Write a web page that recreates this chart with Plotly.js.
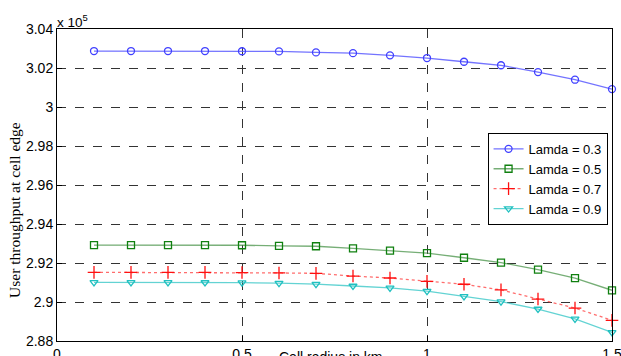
<!DOCTYPE html>
<html><head><meta charset="utf-8">
<script src="https://cdn.plot.ly/plotly-3.0.1.min.js"></script>
<style>html,body{margin:0;padding:0;background:#fff;}#chart{width:621px;height:356px;}</style>
</head><body><div id="chart"></div>
<script>
const cellRadius = [0.1,0.2,0.3,0.4,0.5,0.6,0.7,0.8,0.9,1.0,1.1,1.2,1.3,1.4,1.5];
const lamda03 = [3.0287,3.0287,3.0287,3.0287,3.0286,3.0285,3.0280,3.0276,3.0265,3.0251,3.0232,3.0214,3.0179,3.0140,3.0092];
const lamda05 = [2.9292,2.9292,2.9292,2.9292,2.9291,2.9288,2.9286,2.9275,2.9263,2.9251,2.9227,2.9202,2.9166,2.9122,2.9060];
const lamda07 = [2.9152,2.9152,2.9152,2.9152,2.9151,2.9149,2.9147,2.9133,2.9123,2.9106,2.9091,2.9062,2.9015,2.8969,2.8906];
const lamda09 = [2.9101,2.9101,2.9101,2.9100,2.9099,2.9097,2.9092,2.9082,2.9072,2.9056,2.9029,2.9002,2.8964,2.8913,2.8844];
const seriesNames = ['Lamda = 0.3','Lamda = 0.5','Lamda = 0.7','Lamda = 0.9'];
const yTicks = [2.88,2.9,2.92,2.94,2.96,2.98,3,3.02,3.04];
const yTickText = ['2.88','2.9','2.92','2.94','2.96','2.98','3','3.02','3.04'];
const xTicks = [0,0.5,1,1.5];
const xTickText = ['0','0.5','1','1.5'];

const styles = [
  {line:'rgba(90,90,255,0.85)', marker:'#4040ff', symbol:'circle-open'},
  {line:'rgba(60,140,60,0.7)', marker:'#108010', symbol:'square-open'},
  {line:'rgba(255,60,60,0.75)', marker:'#ff1010', symbol:'cross-thin-open'},
  {line:'rgba(60,200,200,0.8)', marker:'#20c0c0', symbol:'triangle-down-open'}
];
const allY = [lamda03,lamda05,lamda07,lamda09];
const traces = allY.map((ys,i)=>({
  x: cellRadius, y: ys, name: seriesNames[i], type:'scatter', mode:'lines+markers', cliponaxis:false,
  line:{color:styles[i].line, width:1.3, dash: i===2 ? 'dot' : 'solid'},
  marker:{symbol:styles[i].symbol, size: i===2 ? 9 : 7, color:styles[i].marker, line:{color:styles[i].marker, width:1.3}}
}));

const layout = {
  width:621, height:356,
  margin:{l:57, r:9, t:29, b:15, autoexpand:false},
  paper_bgcolor:'#fff', plot_bgcolor:'#fff',
  font:{family:'Liberation Sans, Arial, sans-serif', size:14, color:'#000'},
  showlegend:true,
  legend:{x:0.992, y:0.667, xanchor:'right', yanchor:'top', bgcolor:'#fff', bordercolor:'#000', borderwidth:1,
    font:{size:13}, tracegroupgap:0, itemwidth:30, traceorder:'normal'},
  xaxis:{range:[0,1.5], tickvals:xTicks, ticktext:xTickText, showgrid:true, gridcolor:'#333', griddash:'dash', gridwidth:1,
    showline:true, linecolor:'#000', linewidth:1, mirror:true, ticks:'inside', ticklen:5, tickcolor:'#000', zeroline:false,
    automargin:false, ticklabeloverflow:'allow', tickfont:{size:14}},
  yaxis:{range:[2.88,3.04], tickvals:yTicks, ticktext:yTickText, showgrid:true, gridcolor:'#333', griddash:'dash', gridwidth:1,
    showline:true, linecolor:'#000', linewidth:1, mirror:true, ticks:'inside', ticklen:5, tickcolor:'#000', zeroline:false,
    automargin:false, ticklabeloverflow:'allow', tickfont:{size:14}},
  annotations:[
    {text:'x 10<sup>5</sup>', xref:'paper', yref:'paper', x:0, y:1, xanchor:'left', yanchor:'bottom', showarrow:false, font:{size:13.5}, xshift:-2, yshift:-3},
    {text:'Cell radius in km', xref:'paper', yref:'paper', x:0.397, y:0, xanchor:'left', yanchor:'top', showarrow:false, font:{size:14}, yshift:-6},
    {text:'User throughput at cell edge', xref:'paper', yref:'paper', x:0, y:0.42, xanchor:'center', yanchor:'middle', textangle:-90, showarrow:false,
      font:{family:'Liberation Serif, Times New Roman, serif', size:15.5}, xshift:-42}
  ]
};
Plotly.newPlot('chart', traces, layout, {staticPlot:true, displayModeBar:false});
</script></body></html>
